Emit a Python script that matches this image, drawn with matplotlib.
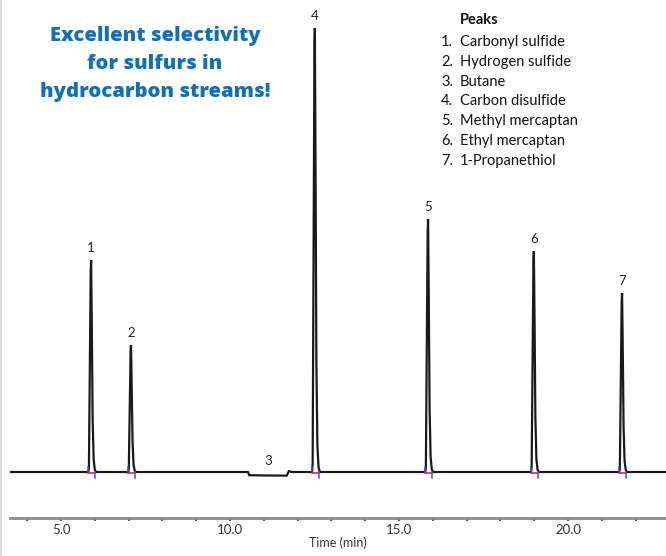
import matplotlib
matplotlib.use("Agg")
import matplotlib.pyplot as plt
import numpy as np

# ---- data ----
peak_labels = ["1", "2", "4", "5", "6", "7"]
peak_times = [5.89, 7.07, 12.51, 15.86, 18.99, 21.60]
peak_heights = [212, 127, 444, 253, 221, 179]

# butane (peak 3) shows as a small baseline dip
dip_times = [10.53, 10.57, 11.10, 11.68, 11.74, 11.82]
dip_values = [0.0, -3.2, -3.5, -3.6, 0.9, 0.0]
dip_label_time = 11.12

legend_title = "Peaks"
legend_items = ["Carbonyl sulfide", "Hydrogen sulfide", "Butane", "Carbon disulfide",
                "Methyl mercaptan", "Ethyl mercaptan", "1-Propanethiol"]
headline = ["Excellent selectivity", "for sulfurs in", "hydrocarbon streams!"]

x_major = [5.0, 10.0, 15.0, 20.0]
x_minor = list(range(4, 23))
x_range = (3.49, 22.9)
y_range = (-46, 472)

# peak profile (relative offsets in minutes, fraction of height) - shape style
prof_dt = [-0.08, -0.065, -0.012, 0.0, 0.02, 0.045, 0.075, 0.11, 0.15]
prof_fr = [0.0, 0.02, 0.95, 1.0, 0.7, 0.25, 0.06, 0.01, 0.0]
start_off, end_off = -0.08, 0.12

# ---- build trace ----
t = [x_range[0]]
y = [0.0]
segments = []
for pt, ph in zip(peak_times, peak_heights):
    segments.append(([pt + d for d in prof_dt], [ph * f for f in prof_fr]))
segments.append((dip_times, dip_values))
segments.sort(key=lambda s: s[0][0])
for st, sy in segments:
    t += st
    y += sy
t.append(x_range[1])
y.append(0.0)

W, H = 666, 556
fig = plt.figure(figsize=(W / 100, H / 100), dpi=100)
ax = fig.add_axes([10 / W, 38 / H, 656 / W, 518 / H])
ax.plot(t, y, color="#1a1a1a", lw=1.6, solid_joinstyle="miter", zorder=3)

# integration markers
for pt in peak_times:
    ts, te = pt + start_off, pt + end_off
    ax.plot([ts, te], [-0.8, -0.8], color="#e8202a", lw=1.2, zorder=4)
    ax.plot([ts, ts], [0, 5], color="#2f5bd8", lw=1.1, zorder=5)
    ax.plot([te, te], [0, -5.5], color="#2f5bd8", lw=1.1, zorder=5)

num_font = ["Lato", "DejaVu Sans"]
for lab, pt, ph in zip(peak_labels, peak_times, peak_heights):
    ax.text(pt, ph + 6, lab, ha="center", va="bottom", fontsize=9.5, color="#222222",
            family=num_font)
ax.text(dip_label_time, 5, "3", ha="center", va="bottom", fontsize=9.5, color="#222222",
        family=num_font)

ax.set_xlim(*x_range)
ax.set_ylim(*y_range)
for s in ["left", "right", "top"]:
    ax.spines[s].set_visible(False)
ax.spines["bottom"].set_color("#8a8a8a")
ax.spines["bottom"].set_linewidth(2.0)
ax.set_yticks([])
ax.set_xticks(x_major)
ax.set_xticklabels([f"{v:.1f}" for v in x_major], family=num_font, fontsize=9.5, color="#333333")
ax.set_xticks(x_minor, minor=True)
ax.tick_params(axis="x", which="both", direction="out", length=2.5, width=1.2,
               color="#333333", pad=2)
ax.set_xlabel("Time (min)", family=num_font, fontsize=9, color="#333333", labelpad=0)

# headline
blue = "#1170b8"
for i, line in enumerate(headline):
    fig.text(155 / W, 1 - (36 + i * 28) / H, line, ha="center", va="center",
             fontsize=14.6, fontweight=800, color=blue, family=["Open Sans", "DejaVu Sans"])

# peak list
fig.text(460 / W, 1 - 20 / H, legend_title, ha="left", va="center", fontsize=10.5,
         fontweight="bold", color="#111111", family=num_font)
for i, item in enumerate(legend_items):
    yy = 1 - (42 + i * 19.8) / H
    fig.text(453 / W, yy, f"{i + 1}.", ha="right", va="center", fontsize=10.5,
             color="#111111", family=num_font)
    fig.text(460 / W, yy, item, ha="left", va="center", fontsize=10.5,
             color="#111111", family=num_font)

# faint left border
fig.add_artist(plt.Line2D([0.6 / W, 0.6 / W], [0, 1], color="#d5d5d5", lw=1.2,
                          transform=fig.transFigure))

fig.savefig("out.png", dpi=100)
